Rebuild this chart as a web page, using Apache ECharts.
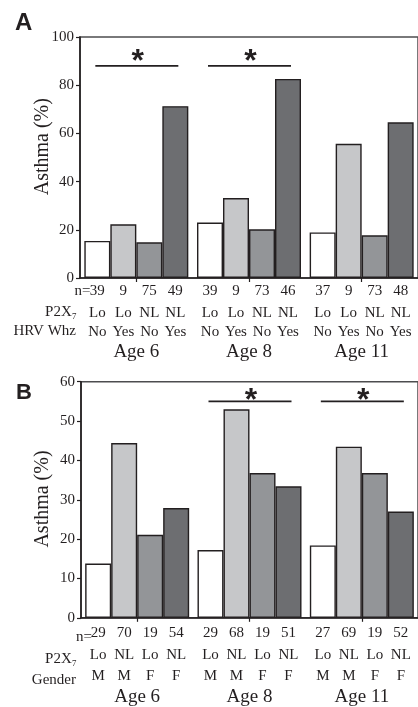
<!DOCTYPE html>
<html>
<head>
<meta charset="utf-8">
<script src="https://cdn.jsdelivr.net/npm/echarts@6/dist/echarts.min.js"></script>
<style>
html,body{margin:0;padding:0;background:#fff;}
#main{width:418px;height:707px;}
</style>
</head>
<body>
<div id="main"></div>
<script>
// ---- data ----
const categories = ['Age 6', 'Age 8', 'Age 11'];
// Panel A (P2X7 x HRV wheeze)
const aLoNo  = [15.4, 23.0, 18.9];
const aLoYes = [22.3, 33.2, 55.7];
const aNLNo  = [14.8, 20.2, 17.7];
const aNLYes = [71.3, 82.6, 64.6];
const nA = [[39, 9, 75, 49], [39, 9, 73, 46], [37, 9, 73, 48]];
const p2x7A = ['Lo', 'Lo', 'NL', 'NL'];
const hrvA = ['No', 'Yes', 'No', 'Yes'];
const sigA = [['Age 6', 88], ['Age 8', 88]];
const yTicksA = [0, 20, 40, 60, 80, 100];
// Panel B (P2X7 x gender)
const bLoM = [13.8, 17.2, 18.4];
const bNLM = [44.4, 53.0, 43.5];
const bLoF = [21.1, 36.8, 36.8];
const bNLF = [27.9, 33.4, 27.0];
const nB = [[29, 70, 19, 54], [29, 68, 19, 51], [27, 69, 19, 52]];
const p2x7B = ['Lo', 'NL', 'Lo', 'NL'];
const genderB = ['M', 'M', 'F', 'F'];
const sigB = [['Age 8', 55], ['Age 11', 55]];
const yTicksB = [0, 10, 20, 30, 40, 50, 60];

// ---- styles ----
const SERIF = '"Liberation Serif", "Times New Roman", serif';
const SANS = '"Liberation Sans", Arial, sans-serif';
const INK = '#231f20';
const fills = ['#ffffff', '#c6c7c9', '#939598', '#6d6e71'];

const chart = echarts.init(document.getElementById('main'), null, {renderer: 'canvas'});

function tok(name, s) { return '{' + name + '|' + s + '}'; }

function labelFmtA(value, idx) {
  return nA[idx].map(v => tok('n', v)).join('') + '\n' +
         p2x7A.map(v => tok('p', v)).join('') + '\n' +
         hrvA.map(v => tok('h', v)).join('') + '\n' +
         tok('age', value);
}
function labelFmtB(value, idx) {
  return nB[idx].map(v => tok('n', v)).join('') + '\n' +
         p2x7B.map(v => tok('p', v)).join('') + '\n' +
         genderB.map(v => tok('h', v)).join('') + '\n' +
         tok('age', value);
}
function richSet(h0, h1, h2, h3) {
  const base = {width: 26, align: 'center', fontSize: 15, fontFamily: SERIF, color: INK};
  return {
    n: Object.assign({}, base, {lineHeight: h0}),
    p: Object.assign({}, base, {lineHeight: h1}),
    h: Object.assign({}, base, {lineHeight: h2}),
    age: {fontSize: 19, fontFamily: SERIF, color: INK, lineHeight: h3, align: 'center'}
  };
}

function xAxisCfg(gridIndex, fmt, margin, rich) {
  return {
    type: 'category', gridIndex: gridIndex, data: categories,
    axisLine: {show: true, lineStyle: {color: INK, width: 1.6}},
    axisTick: {show: true, alignWithLabel: true, length: 4, lineStyle: {color: INK, width: 1.2}},
    axisLabel: {interval: 0, margin: margin, formatter: fmt, rich: rich, color: INK, hideOverlap: false},
    splitLine: {show: false}
  };
}
function yAxisCfg(gridIndex, ticks) {
  return {
    type: 'value', gridIndex: gridIndex,
    min: ticks[0], max: ticks[ticks.length - 1], interval: ticks[1] - ticks[0],
    axisLine: {show: true, lineStyle: {color: INK, width: 1.6}},
    axisTick: {show: true, length: 4, lineStyle: {color: INK, width: 1.2}},
    axisLabel: {margin: 6, fontSize: 15, fontFamily: SERIF, color: INK},
    splitLine: {show: false}
  };
}
function barSeries(data, k, axisIdx) {
  return {
    type: 'bar', data: data, xAxisIndex: axisIdx, yAxisIndex: axisIdx,
    barWidth: 26, barGap: '0%',
    itemStyle: {color: fills[k], borderColor: INK, borderWidth: 1.4},
    emphasis: {disabled: true}, silent: true
  };
}
function sigSeries(data, axisIdx, starLift) {
  return {
    type: 'custom', xAxisIndex: axisIdx, yAxisIndex: axisIdx, data: data,
    encode: {x: 0, y: 1}, silent: true, clip: false, z: 5,
    renderItem: function (params, api) {
      const c = api.coord([api.value(0), api.value(1)]);
      return {
        type: 'group',
        children: [
          {type: 'line', shape: {x1: c[0] - 41, y1: c[1], x2: c[0] + 42, y2: c[1]},
           style: {stroke: INK, lineWidth: 1.8}},
          {type: 'text', x: c[0] + 1.5, y: c[1] - starLift,
           style: {text: '*', font: 'bold 32px ' + SANS, align: 'center', verticalAlign: 'middle', fill: INK}}
        ]
      };
    }
  };
}

function txt(x, y, text, opts) {
  return Object.assign({
    type: 'text', x: x, y: y, silent: true,
    style: Object.assign({text: text, font: '15px ' + SERIF, fill: INK, align: 'right', verticalAlign: 'middle'}, opts || {})
  });
}

const option = {
  animation: false,
  backgroundColor: '#ffffff',
  textStyle: {fontFamily: SERIF},
  grid: [
    {left: 80, top: 37, width: 345, height: 241, show: true, borderColor: '#4d4d4f', borderWidth: 1.5, backgroundColor: 'transparent'},
    {left: 81, top: 381.7, width: 345, height: 240, show: true, borderColor: '#4d4d4f', borderWidth: 1.5, backgroundColor: 'transparent'}
  ],
  xAxis: [
    xAxisCfg(0, labelFmtA, 2, richSet(22, 21.4, 16.4, 24.6)),
    xAxisCfg(1, labelFmtB, 4.5, richSet(21.7, 21.7, 21.5, 20.6))
  ],
  yAxis: [yAxisCfg(0, yTicksA), yAxisCfg(1, yTicksB)],
  series: [
    barSeries(aLoNo, 0, 0), barSeries(aLoYes, 1, 0), barSeries(aNLNo, 2, 0), barSeries(aNLYes, 3, 0),
    barSeries(bLoM, 0, 1), barSeries(bNLM, 1, 1), barSeries(bLoF, 2, 1), barSeries(bNLF, 3, 1),
    sigSeries(sigA, 0, 3.3), sigSeries(sigB, 1, 0.5)
  ],
  graphic: [
    txt(15, 23.5, 'A', {font: 'bold 24px ' + SANS, align: 'left'}),
    txt(16, 393, 'B', {font: 'bold 22px ' + SANS, align: 'left'}),
    {type: 'text', x: 42.5, y: 146.7, rotation: Math.PI / 2, silent: true,
     style: {text: 'Asthma (%)', font: '20px ' + SERIF, fill: INK, align: 'center', verticalAlign: 'middle'}},
    {type: 'text', x: 42.5, y: 499, rotation: Math.PI / 2, silent: true,
     style: {text: 'Asthma (%)', font: '20px ' + SERIF, fill: INK, align: 'center', verticalAlign: 'middle'}},
    // Panel A row headers
    txt(90.5, 291, 'n='),
    txt(77, 312.2, 'P2X\u2087'),
    txt(76, 331.3, 'HRV Whz'),
    // Panel B row headers
    txt(92, 637, 'n='),
    txt(77, 658.7, 'P2X\u2087'),
    txt(76, 680.3, 'Gender')
  ]
};
chart.setOption(option);
</script>
</body>
</html>
